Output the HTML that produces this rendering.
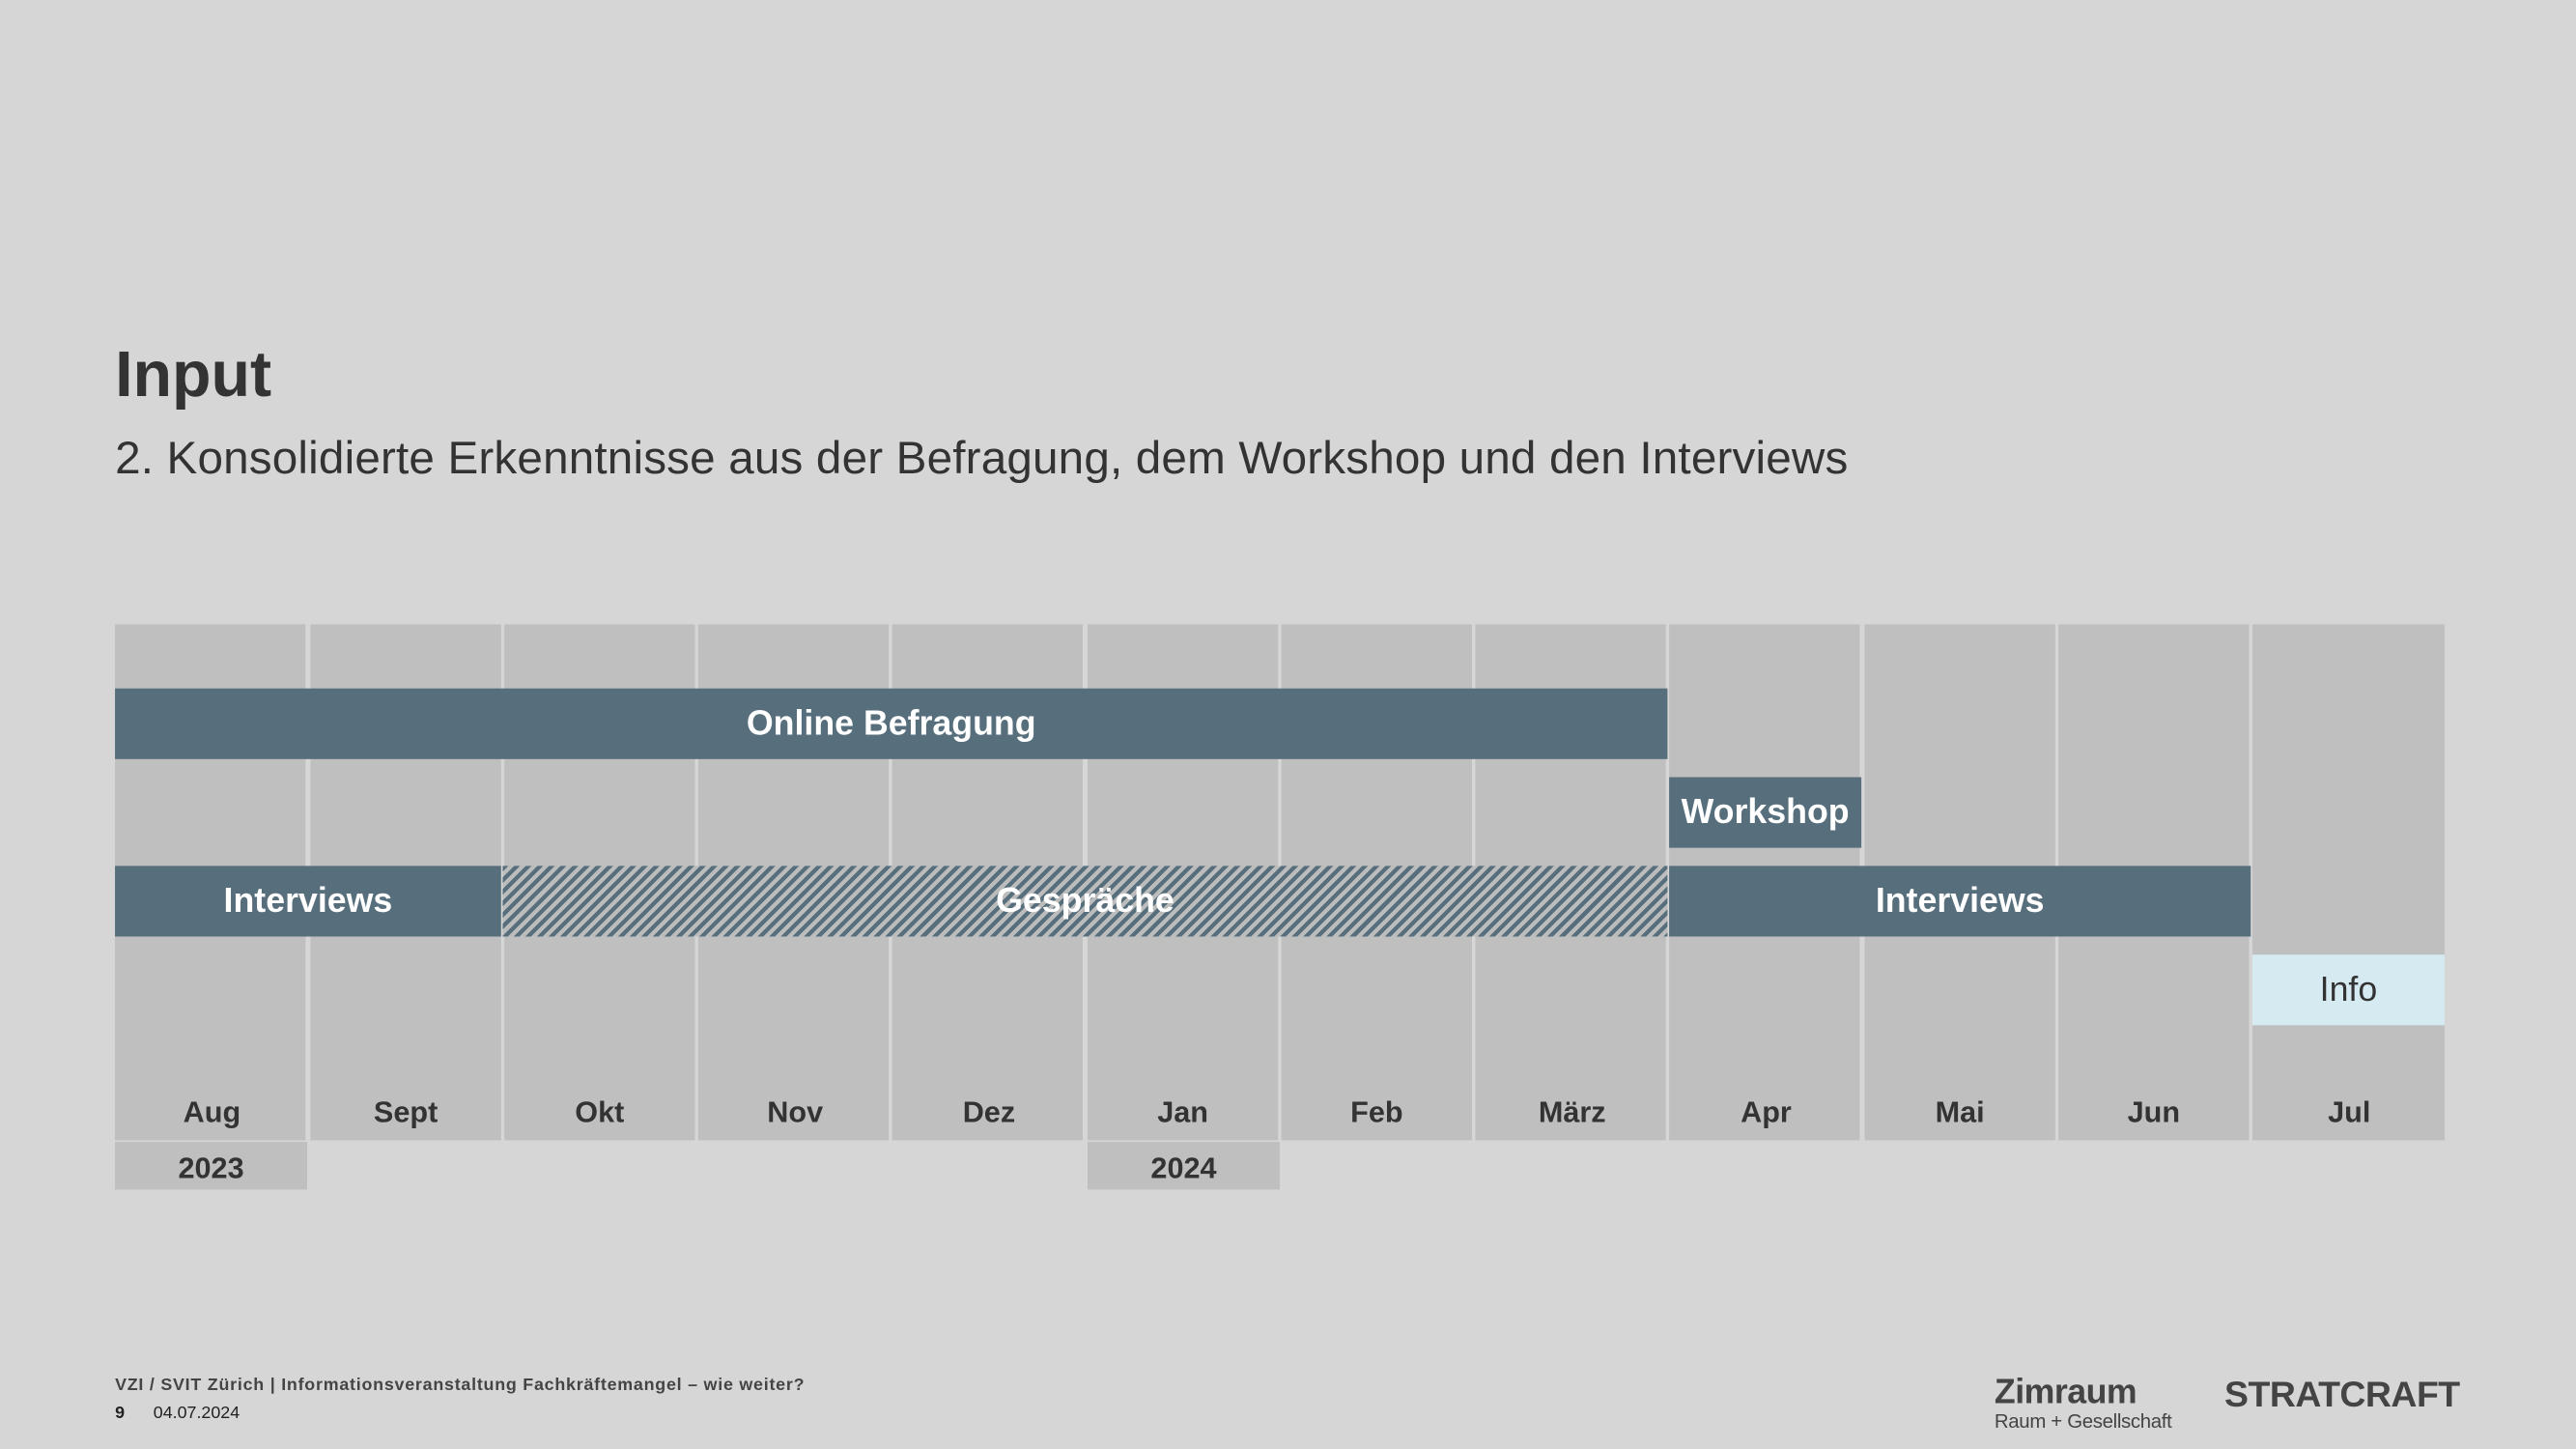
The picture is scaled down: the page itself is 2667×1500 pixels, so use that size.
<!DOCTYPE html>
<html><head><meta charset="utf-8"><style>
html,body{margin:0;padding:0;background:#d6d6d6;overflow:hidden}
#w{position:absolute;left:0;top:0;width:1568px;height:882px;transform:scale(1.7009);transform-origin:0 0;font-family:"Liberation Sans",Arial,sans-serif;color:#333}
.a{position:absolute}
.col{position:absolute;top:380px;height:314px;width:116px;background:#bfbfbf}
.bar{position:absolute;background:#576f7c;color:#fff;font-weight:bold;font-size:21px;display:flex;align-items:center;justify-content:center}
.m{position:absolute;top:667px;width:118px;text-align:center;font-weight:bold;font-size:18px;color:#333}
.y{position:absolute;top:695px;height:29px;width:117px;background:#bfbfbf;text-align:center;font-weight:bold;font-size:18px;line-height:32px;color:#333}
</style></head><body><div id="w">
<div class="a" style="left:70px;top:207px;font-size:39px;font-weight:bold;color:#333">Input</div>
<div class="a" style="left:70px;top:263px;font-size:28px;letter-spacing:0.1px;color:#333">2. Konsolidierte Erkenntnisse aus der Befragung, dem Workshop und den Interviews</div>

<div class="col" style="left:70px"></div>
<div class="col" style="left:188.5px"></div>
<div class="col" style="left:306.8px"></div>
<div class="col" style="left:425px"></div>
<div class="col" style="left:543.2px"></div>
<div class="col" style="left:661.5px"></div>
<div class="col" style="left:779.7px"></div>
<div class="col" style="left:898px"></div>
<div class="col" style="left:1016.2px"></div>
<div class="col" style="left:1134.5px"></div>
<div class="col" style="left:1252.7px"></div>
<div class="col" style="left:1371px;width:117px"></div>

<div class="bar" style="left:70px;top:419px;width:945px;height:43px">Online Befragung</div>
<div class="bar" style="left:1016px;top:473px;width:117px;height:43px">Workshop</div>
<div class="bar" style="left:70px;top:527px;width:235px;height:43px">Interviews</div>
<div class="bar" style="left:306px;top:527px;width:709px;height:43px;background:repeating-linear-gradient(135deg,#576f7c 0 2.5px,#bcbcbc 2.5px 5px)">Gespräche</div>
<div class="bar" style="left:1016px;top:527px;width:354px;height:43px">Interviews</div>
<div class="bar" style="left:1371px;top:581px;width:117px;height:43px;background:#d6eaf2;color:#333;font-weight:normal">Info</div>

<div class="m" style="left:70px">Aug</div>
<div class="m" style="left:188px">Sept</div>
<div class="m" style="left:306px">Okt</div>
<div class="m" style="left:425px">Nov</div>
<div class="m" style="left:543px">Dez</div>
<div class="m" style="left:661px">Jan</div>
<div class="m" style="left:779px">Feb</div>
<div class="m" style="left:898px">März</div>
<div class="m" style="left:1016px">Apr</div>
<div class="m" style="left:1134px">Mai</div>
<div class="m" style="left:1252px">Jun</div>
<div class="m" style="left:1371px">Jul</div>
<div class="y" style="left:70px">2023</div>
<div class="y" style="left:662px">2024</div>

<div class="a" style="left:70px;top:837px;font-size:10.5px;font-weight:bold;color:#444;letter-spacing:0.45px">VZI / SVIT Zürich | Informationsveranstaltung Fachkräftemangel – wie weiter?</div>
<div class="a" style="left:70px;top:854px;font-size:10.5px;color:#222"><b>9</b>&nbsp;&nbsp;&nbsp;&nbsp;&nbsp;&nbsp;04.07.2024</div>
<div class="a" style="left:1214px;top:836px;font-size:21px;font-weight:bold;color:#444;letter-spacing:-0.3px">Zimraum</div>
<div class="a" style="left:1214px;top:858px;font-size:12px;color:#444;letter-spacing:-0.2px">Raum + Gesellschaft</div>
<div class="a" style="left:1354px;top:836px;font-size:22px;font-weight:bold;color:#444;letter-spacing:-0.3px">STRATCRAFT</div>
</div></body></html>
